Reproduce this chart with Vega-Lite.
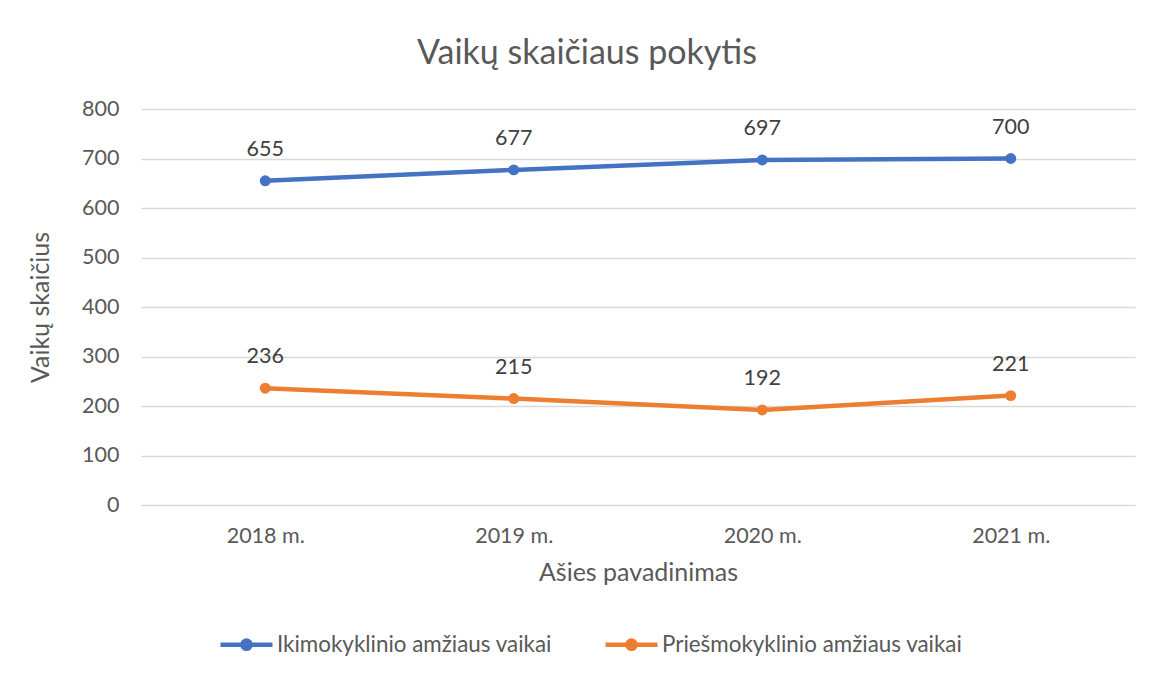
{
  "$schema": "https://vega.github.io/schema/vega-lite/v6.json",
  "width": 994,
  "height": 396,
  "autosize": "none",
  "padding": {"left": 141, "top": 109, "right": 17, "bottom": 173},
  "background": "white",
  "config": {"view": {"stroke": null}},
  "title": {
    "text": "Vaikų skaičiaus pokytis",
    "font": "Lato",
    "fontSize": 34,
    "fontWeight": "normal",
    "color": "#595959",
    "anchor": "middle",
    "dx": -51,
    "offset": 27
  },
  "data": {
    "values": [
      {"metai": "2018 m.", "serija": "Ikimokyklinio amžiaus vaikai", "vaikai": 655},
      {"metai": "2019 m.", "serija": "Ikimokyklinio amžiaus vaikai", "vaikai": 677},
      {"metai": "2020 m.", "serija": "Ikimokyklinio amžiaus vaikai", "vaikai": 697},
      {"metai": "2021 m.", "serija": "Ikimokyklinio amžiaus vaikai", "vaikai": 700},
      {"metai": "2018 m.", "serija": "Priešmokyklinio amžiaus vaikai", "vaikai": 236},
      {"metai": "2019 m.", "serija": "Priešmokyklinio amžiaus vaikai", "vaikai": 215},
      {"metai": "2020 m.", "serija": "Priešmokyklinio amžiaus vaikai", "vaikai": 192},
      {"metai": "2021 m.", "serija": "Priešmokyklinio amžiaus vaikai", "vaikai": 221}
    ]
  },
  "encoding": {
    "x": {
      "field": "metai",
      "type": "ordinal",
      "scale": {"type": "point", "padding": 0.5},
      "axis": {
        "title": "Ašies pavadinimas",
        "labelAngle": 0,
        "ticks": false,
        "domainColor": "#D9D9D9",
        "labelPadding": 20,
        "titlePadding": 14,
        "labelFont": "Lato",
        "labelFontSize": 21.5,
        "labelColor": "#595959",
        "titleFont": "Lato",
        "titleFontSize": 25,
        "titleFontWeight": "normal",
        "titleColor": "#595959"
      }
    },
    "y": {
      "field": "vaikai",
      "type": "quantitative",
      "scale": {"domain": [0, 800], "nice": false},
      "axis": {
        "title": "Vaikų skaičius",
        "values": [0, 100, 200, 300, 400, 500, 600, 700, 800],
        "ticks": false,
        "domain": false,
        "gridColor": "#D9D9D9",
        "gridWidth": 1.3,
        "labelPadding": 22,
        "titlePadding": 28,
        "labelFont": "Lato",
        "labelFontSize": 21.5,
        "labelColor": "#595959",
        "titleFont": "Lato",
        "titleFontSize": 25,
        "titleFontWeight": "normal",
        "titleColor": "#595959"
      }
    },
    "color": {
      "field": "serija",
      "type": "nominal",
      "scale": {"range": ["#4472C4", "#ED7D31"]},
      "legend": {
        "title": null,
        "orient": "none",
        "direction": "horizontal",
        "legendX": 77,
        "legendY": 507,
        "symbolType": "M-1,0L1,0M0.16,0A0.16,0.16,0,1,1,-0.16,0A0.16,0.16,0,1,1,0.16,0Z",
        "symbolSize": 2700,
        "symbolStrokeWidth": 4.5,
        "labelFont": "Lato",
        "labelFontSize": 22.4,
        "labelColor": "#595959",
        "labelLimit": 0,
        "labelOffset": 2,
        "columnPadding": 44
      }
    }
  },
  "layer": [
    {"mark": {"type": "line", "strokeWidth": 4.5}},
    {"mark": {"type": "point", "filled": true, "size": 120, "opacity": 1}},
    {
      "mark": {"type": "text", "dy": -31, "font": "Lato", "fontSize": 21.5},
      "encoding": {"text": {"field": "vaikai", "type": "quantitative"}, "color": {"value": "#404040"}}
    }
  ]
}
